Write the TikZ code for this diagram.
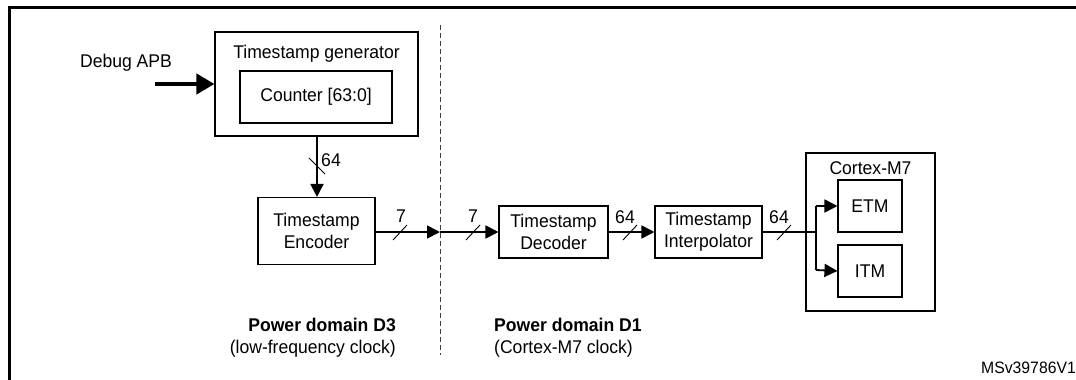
\documentclass[tikz,border=0pt]{standalone}
\usepackage{fontspec}
\setmainfont[FakeStretch=0.955]{Liberation Sans}
\usetikzlibrary{arrows.meta}
\begin{document}
\begin{tikzpicture}[x=1pt,y=-1pt,
  font=\fontsize{18.4}{22}\selectfont,
  blk/.style={draw=black,line width=1.1pt,rectangle,inner sep=0pt,align=center},
  conn/.style={line width=1.8pt,-{Triangle[length=13pt,width=13pt]}},
  wire/.style={line width=1.8pt},
  bus/.style={line width=0.9pt},
  lbl/.style={inner sep=0pt}]
\useasboundingbox (0,0) rectangle (1076,380);
% frame
\draw[line width=3pt] (9,380) -- (9,7) -- (1076,7);

% blocks
\node[blk,minimum width=203pt,minimum height=104pt] (gen) at (316.5,84) {};
\node[lbl] (gent) at (316.5,54) {Timestamp generator};
\node[blk,minimum width=152pt,minimum height=52pt] (cnt) at (316,97) {Counter [63:0]};
\node[blk,minimum width=117pt,minimum height=67pt] (enc) at (316.5,231) {Timestamp\\Encoder};
\node[blk,minimum width=109pt,minimum height=52pt] (dec) at (553.5,232) {Timestamp\\Decoder};
\node[blk,minimum width=107pt,minimum height=52pt] (itp) at (708.5,232) {Timestamp\\Interpolator};
\node[blk,minimum width=129pt,minimum height=158pt] (cm7) at (870.5,232) {};
\node[lbl] (cm7t) at (870.5,168) {Cortex-M7};
\node[blk,minimum width=64pt,minimum height=52pt] (etm) at (870,206) {ETM};
\node[blk,minimum width=64pt,minimum height=52pt] (itm) at (870,271) {ITM};

% labels
\node[lbl] (apb) at (126,63) {Debug APB};
\coordinate (apbs) at (155,84);
\node[lbl,anchor=east] (d3) at (396,325) {\bfseries Power domain D3};
\node[lbl,anchor=east] (d3c) at (396,349) {(low-frequency clock)};
\node[lbl,anchor=west] (d1) at (494,325) {\bfseries Power domain D1};
\node[lbl,anchor=west] (d1c) at (494,349) {(Cortex-M7 clock)};
\node[lbl,anchor=east,font=\fontsize{16.5}{18}\selectfont] (ms) at (1076,368) {MSv39786V1};

% dashed divider
\coordinate (dtop) at (440,25);
\coordinate (dbot) at (440,355);
\draw[line width=0.9pt,dash pattern=on 5pt off 3pt,color=black!75] (dtop) -- (dbot);
\coordinate (cross) at (440,232);
\coordinate (br) at (816,232);
\coordinate (brt) at (816,206);
\coordinate (brb) at (816,270);

% connectors
\draw[line width=4pt,-{Triangle[length=18pt,width=20pt]}] (apbs) -- (gen.west |- apbs);
\draw[conn] (gen.south -| 317,0) -- (enc.north -| 317,0);
\draw[conn] (enc.east |- cross) -- (cross);
\draw[conn] (cross) -- (dec.west |- cross);
\draw[conn] (dec.east) -- (itp.west);
\draw[wire] (itp.east) -- (br);
\draw[wire] (brt) -- (brb);
\draw[conn] (brt) -- (etm.west);
\draw[conn] (brb) -- (itm.west);

% bus slashes and widths
\draw[bus] (309,158) -- (325,174);
\node[lbl] (w1) at (331,160) {64};
\draw[bus] (393,240) -- (407,225);
\node[lbl] (w2) at (401,216) {7};
\draw[bus] (466,240) -- (480,225);
\node[lbl] (w3) at (473,216) {7};
\draw[bus] (623,240) -- (637,225);
\node[lbl] (w4) at (625,217) {64};
\draw[bus] (777,240) -- (791,225);
\node[lbl] (w5) at (779,217) {64};
\end{tikzpicture}
\end{document}
